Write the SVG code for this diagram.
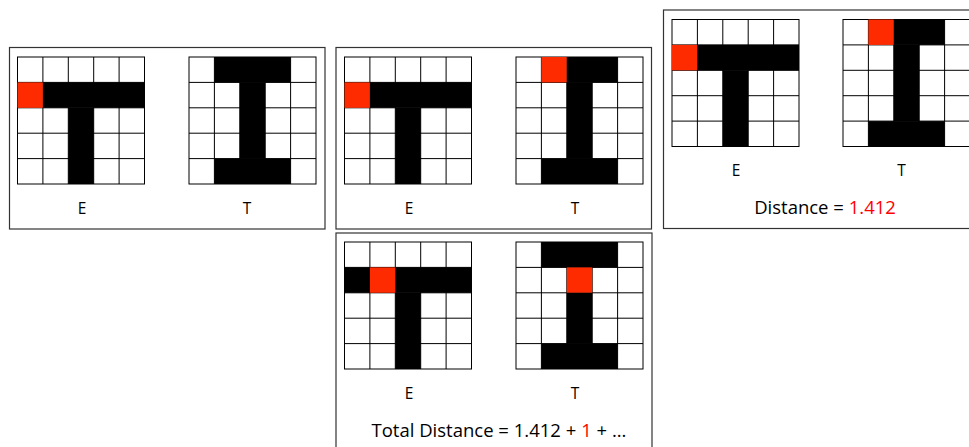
<svg xmlns="http://www.w3.org/2000/svg" xmlns:xlink="http://www.w3.org/1999/xlink" width="969" height="447" viewBox="0 0 969 447">
<style>
.frame{fill:#fff;stroke:#333;stroke-width:1.2}
.k{fill:#000}
.r{fill:#FF2B00}
.gl{fill:none;stroke:#000;stroke-width:1}
.lbl{font-family:"Open Sans","Noto Sans",sans-serif;font-size:15.5px;fill:#000;text-anchor:middle}
.big{font-family:"Open Sans","Noto Sans",sans-serif;font-size:18.5px;fill:#000;text-anchor:middle}
.red{fill:#FF0000}
</style>
<defs>
<g id="grid">
<path class="gl" d="M25.4 0V127M50.8 0V127M76.2 0V127M101.6 0V127M0 25.4H127M0 50.8H127M0 76.2H127M0 101.6H127"/>
<rect class="gl" x="0" y="0" width="127" height="127"/>
</g>
</defs>
<rect width="969" height="447" fill="#fff"/>

<g id="panel1">
<rect class="frame" x="9.5" y="47.5" width="315.5" height="181.5"/>
<g id="p1-E" transform="translate(17.5,57)">
<use xlink:href="#grid"/>
<rect class="r" x="0" y="25.4" width="25.4" height="25.4"/>
<rect class="k" x="25.4" y="25.4" width="101.6" height="25.4"/>
<rect class="k" x="50.8" y="50.8" width="25.4" height="76.2"/>
</g>
<g id="p1-T" transform="translate(189,57)">
<use xlink:href="#grid"/>
<rect class="k" x="25.4" y="0" width="76.2" height="25.4"/>
<rect class="k" x="50.8" y="25.4" width="25.4" height="76.2"/>
<rect class="k" x="25.4" y="101.6" width="76.2" height="25.4"/>
</g>
<text class="lbl" x="82" y="214">E</text>
<text class="lbl" x="247" y="214">T</text>
</g>

<g id="panel2">
<rect class="frame" x="336" y="47.5" width="315.5" height="181.5"/>
<g id="p2-E" transform="translate(344.5,57)">
<use xlink:href="#grid"/>
<rect class="r" x="0" y="25.4" width="25.4" height="25.4"/>
<rect class="k" x="25.4" y="25.4" width="101.6" height="25.4"/>
<rect class="k" x="50.8" y="50.8" width="25.4" height="76.2"/>
</g>
<g id="p2-T" transform="translate(516,57)">
<use xlink:href="#grid"/>
<rect class="r" x="25.4" y="0" width="25.4" height="25.4"/>
<rect class="k" x="50.8" y="0" width="50.8" height="25.4"/>
<rect class="k" x="50.8" y="25.4" width="25.4" height="76.2"/>
<rect class="k" x="25.4" y="101.6" width="76.2" height="25.4"/>
</g>
<text class="lbl" x="409" y="214">E</text>
<text class="lbl" x="575" y="214">T</text>
</g>

<g id="panel3">
<rect class="frame" x="663.5" y="10" width="320" height="218.5"/>
<g id="p3-E" transform="translate(672,19.5)">
<use xlink:href="#grid"/>
<rect class="r" x="0" y="25.4" width="25.4" height="25.4"/>
<rect class="k" x="25.4" y="25.4" width="101.6" height="25.4"/>
<rect class="k" x="50.8" y="50.8" width="25.4" height="76.2"/>
</g>
<g id="p3-T" transform="translate(843,19.5)">
<use xlink:href="#grid"/>
<rect class="r" x="25.4" y="0" width="25.4" height="25.4"/>
<rect class="k" x="50.8" y="0" width="50.8" height="25.4"/>
<rect class="k" x="50.8" y="25.4" width="25.4" height="76.2"/>
<rect class="k" x="25.4" y="101.6" width="76.2" height="25.4"/>
</g>
<text class="lbl" x="736" y="176">E</text>
<text class="lbl" x="901.5" y="176">T</text>
<text class="big" x="825" y="213.5">Distance = <tspan class="red">1.412</tspan></text>
</g>

<g id="panel4">
<rect class="frame" x="336" y="233" width="316" height="230"/>
<g id="p4-E" transform="translate(344.5,242)">
<use xlink:href="#grid"/>
<rect class="k" x="0" y="25.4" width="127" height="25.4"/>
<rect class="r" x="25.4" y="25.4" width="25.4" height="25.4"/>
<rect class="k" x="50.8" y="50.8" width="25.4" height="76.2"/>
</g>
<g id="p4-T" transform="translate(516,242)">
<use xlink:href="#grid"/>
<rect class="k" x="25.4" y="0" width="76.2" height="25.4"/>
<rect class="r" x="50.8" y="25.4" width="25.4" height="25.4"/>
<rect class="k" x="50.8" y="50.8" width="25.4" height="50.8"/>
<rect class="k" x="25.4" y="101.6" width="76.2" height="25.4"/>
</g>
<text class="lbl" x="409" y="398.5">E</text>
<text class="lbl" x="575" y="398.5">T</text>
<text class="big" x="499" y="436.5">Total Distance = 1.412 + <tspan class="red">1</tspan> + ...</text>
</g>
</svg>
